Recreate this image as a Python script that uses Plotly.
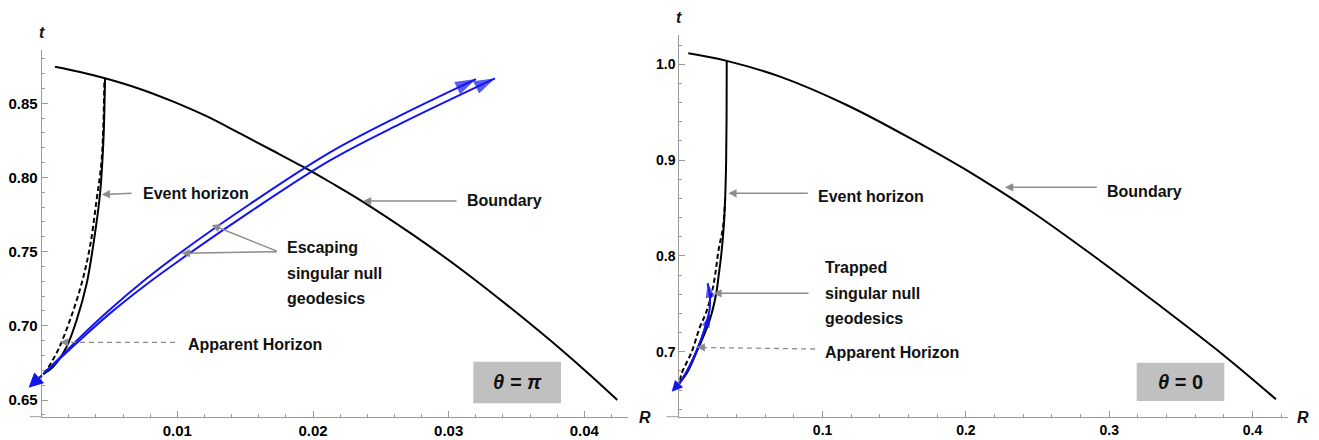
import plotly.graph_objects as go
import numpy as np

W, H = 1319, 440

# ---------------- Left panel (theta = pi) ----------------
L_bnd_R = [0.000980, 0.002823, 0.004666, 0.007247, 0.009701, 0.012186, 0.014619, 0.016978, 0.019285,
           0.021401, 0.023539, 0.027298, 0.031080, 0.034744, 0.038452, 0.040420, 0.042433]
L_bnd_t = [0.87466, 0.87109, 0.86685, 0.85964, 0.85108, 0.84111, 0.82965, 0.81833, 0.80708,
           0.79609, 0.78443, 0.76179, 0.73700, 0.71078, 0.68275, 0.66691, 0.65007]

L_eh_R = [0.00467, 0.00462, 0.00454, 0.00430, 0.00393, 0.00332, 0.00258, 0.00184, 0.00086, 0.00012]
L_eh_t = [0.8668, 0.8450, 0.8230, 0.7890, 0.7624, 0.7287, 0.7040, 0.6860, 0.6725, 0.6675]

L_ah_R = [0.00462, 0.00442, 0.00405, 0.00356, 0.00295, 0.00209, 0.00122, 0.00037, 0.00012]
L_ah_t = [0.8640, 0.8120, 0.7850, 0.7534, 0.7287, 0.7040, 0.6840, 0.6703, 0.6675]

L_g1_R = [0.000118, 0.001349, 0.002823, 0.005035, 0.007615, 0.010195, 0.015356, 0.021253, 0.026414, 0.032016]
L_g1_t = [0.6675, 0.6787, 0.6922, 0.7110, 0.7310, 0.7491, 0.7821, 0.8169, 0.8417, 0.8663]
L_g2_R = [0.000118, 0.001349, 0.002823, 0.005035, 0.007615, 0.010195, 0.015356, 0.021253, 0.026414, 0.033417]
L_g2_t = [0.6675, 0.6780, 0.6905, 0.7084, 0.7272, 0.7444, 0.7768, 0.8115, 0.8361, 0.8668]
L_back_tip = (-0.00095, 0.6585)

L_xticks = [0.01, 0.02, 0.03, 0.04]
L_xtext = ["0.01", "0.02", "0.03", "0.04"]
L_yticks = [0.65, 0.70, 0.75, 0.80, 0.85]
L_ytext = ["0.65", "0.70", "0.75", "0.80", "0.85"]

# ---------------- Right panel (theta = 0) ----------------
R_bnd_R = [0.00628, 0.0331, 0.0703, 0.1168, 0.1633, 0.2098, 0.24822, 0.2866, 0.3331, 0.3796, 0.4164]
R_bnd_t = [1.0115, 1.0036, 0.9871, 0.9575, 0.9210, 0.8810, 0.84374, 0.8027, 0.7505, 0.6966, 0.6503]

R_eh_R = [0.0331, 0.0330, 0.0327, 0.0320, 0.0310, 0.0292, 0.0275, 0.0258, 0.0226, 0.0195, 0.0122, 0.0052, 0.0]
R_eh_t = [1.0036, 0.950, 0.900, 0.860, 0.830, 0.800, 0.780, 0.761, 0.740, 0.726, 0.700, 0.6775, 0.667]

R_ah_R = [0.0320, 0.0305, 0.0274, 0.0250, 0.0226, 0.0185, 0.0144, 0.0087, 0.0017, 0.0]
R_ah_t = [0.860, 0.830, 0.806, 0.780, 0.761, 0.740, 0.726, 0.700, 0.6775, 0.667]

R_g1_R = [0.0, 0.0035, 0.0075, 0.0115, 0.0155, 0.0190, 0.0212, 0.0212, 0.0198]
R_g1_t = [0.667, 0.675, 0.686, 0.699, 0.714, 0.731, 0.745, 0.760, 0.7714]
R_g2_R = [0.0, 0.0035, 0.0075, 0.0115, 0.0155, 0.0190, 0.0214]
R_g2_t = [0.667, 0.675, 0.686, 0.699, 0.714, 0.728, 0.7383]
R_back_tip = (-0.0053, 0.6582)

R_xticks = [0.1, 0.2, 0.3, 0.4]
R_xtext = ["0.1", "0.2", "0.3", "0.4"]
R_yticks = [0.7, 0.8, 0.9, 1.0]
R_ytext = ["0.7", "0.8", "0.9", "1.0"]

BLUE = "#1414f0"
GRAY = "#8c8c8c"
AXC = "#9a9a9a"
FONT = "Liberation Sans"

fig = go.Figure()
annotations = []
shapes = []


def curve(R, t, xa, ya, color="black", width=2, dash=None):
    fig.add_trace(go.Scatter(x=R, y=t, mode="lines", xaxis=xa, yaxis=ya,
                             line=dict(color=color, width=width, dash=dash, shape="spline", smoothing=1.0),
                             hoverinfo="skip"))


def arrow_curve(R, t, xa, ya, head):
    sizes = [0] * (len(R) - 1) + [head]
    fig.add_trace(go.Scatter(x=R, y=t, mode="lines+markers", xaxis=xa, yaxis=ya, cliponaxis=False,
                             line=dict(color=BLUE, width=2, shape="spline", smoothing=1.0),
                             marker=dict(symbol="arrow", size=sizes, angleref="previous", color=BLUE,
                                         line=dict(width=0)),
                             hoverinfo="skip"))


def back_arrow(R, t, tip, xa, ya, size):
    annotations.append(dict(text="", x=tip[0], y=tip[1], xref=xa, yref=ya, ax=R[0], ay=t[0],
                            axref=xa, ayref=ya, showarrow=True, arrowhead=2, arrowsize=size,
                            arrowwidth=2, arrowcolor=BLUE, standoff=0))


# left
curve(L_bnd_R, L_bnd_t, "x", "y")
curve(L_ah_R, L_ah_t, "x", "y", dash="5px,3px")
curve(L_eh_R, L_eh_t, "x", "y")
arrow_curve(L_g1_R, L_g1_t, "x", "y", 22)
arrow_curve(L_g2_R, L_g2_t, "x", "y", 22)
back_arrow(L_g1_R, L_g1_t, L_back_tip, "x", "y", 1.4)
back_arrow(L_g2_R, L_g2_t, L_back_tip, "x", "y", 1.4)

# right
curve(R_bnd_R, R_bnd_t, "x2", "y2")
curve(R_ah_R, R_ah_t, "x2", "y2", dash="5px,3px")
curve(R_eh_R, R_eh_t, "x2", "y2")
arrow_curve(R_g1_R, R_g1_t, "x2", "y2", 15)
arrow_curve(R_g2_R, R_g2_t, "x2", "y2", 13)
back_arrow(R_g1_R, R_g1_t, R_back_tip, "x2", "y2", 1.1)


def px(x):
    return x / W


def py(y):
    return 1 - y / H


def axis_common(tickvals, ticktext, size):
    return dict(showline=True, linecolor=AXC, linewidth=1, ticks="inside", ticklen=6, tickwidth=1,
                tickcolor=AXC, tickvals=tickvals, ticktext=ticktext, showgrid=False, zeroline=False,
                tickfont=dict(family=FONT, size=size, color="black", weight="bold"), fixedrange=True)


xa = axis_common(L_xticks, L_xtext, 15)
xa.update(domain=[px(41.7), px(628)], range=[0, 0.04322], anchor="y",
          minor=dict(tickvals=list(np.round(np.arange(0.0, 0.0431, 0.002), 4)), ticks="inside",
                     ticklen=3, tickcolor=AXC, showgrid=False))
ya = axis_common(L_yticks, L_ytext, 15)
ya.update(domain=[py(416.7), py(50)], range=[0.63875, 0.8859], anchor="x",
          minor=dict(tickvals=list(np.round(np.arange(0.64, 0.886, 0.01), 3)), ticks="inside",
                     ticklen=3, tickcolor=AXC, showgrid=False))
xa2 = axis_common(R_xticks, R_xtext, 14)
xa2.update(domain=[px(679.3), px(1287.7)], range=[0, 0.42456], anchor="y2",
           minor=dict(tickvals=list(np.round(np.arange(0.0, 0.424, 0.02), 3)), ticks="inside",
                      ticklen=3, tickcolor=AXC, showgrid=False))
ya2 = axis_common(R_yticks, R_ytext, 14)
ya2.update(domain=[py(416.7), py(35)], range=[0.63215, 1.03058], anchor="x2",
           minor=dict(tickvals=list(np.round(np.arange(0.64, 1.03, 0.02), 3)), ticks="inside",
                      ticklen=3, tickcolor=AXC, showgrid=False))


def text(s, x, y, anchor="left", size=16, italic=False):
    s2 = f"<b><i>{s}</i></b>" if italic else f"<b>{s}</b>"
    annotations.append(dict(text=s2, x=px(x), y=py(y), xref="paper", yref="paper", showarrow=False,
                            xanchor=anchor, yanchor="middle",
                            font=dict(family=FONT, size=size, color="#111111")))


def garrow(tip, tail):
    annotations.append(dict(text="", x=px(tip[0]), y=py(tip[1]), xref="paper", yref="paper",
                            ax=tail[0] - tip[0], ay=tail[1] - tip[1], axref="pixel", ayref="pixel",
                            showarrow=True, arrowhead=2, arrowsize=1.1, arrowwidth=1.5,
                            arrowcolor=GRAY, standoff=0))


def dline(p0, p1):
    shapes.append(dict(type="line", xref="paper", yref="paper", x0=px(p0[0]), y0=py(p0[1]),
                       x1=px(p1[0]), y1=py(p1[1]), line=dict(color=GRAY, width=1.3, dash="5px,4px")))


def box(x0, y0, x1, y1):
    shapes.append(dict(type="rect", xref="paper", yref="paper", x0=px(x0), y0=py(y1), x1=px(x1),
                       y1=py(y0), fillcolor="#c0c0c0", line=dict(width=0), layer="below"))


# left panel annotations
garrow((101.7, 194.5), (133, 193.3))
text("Event horizon", 141, 193)
garrow((363, 201), (458, 201))
text("Boundary", 465, 200)
garrow((211.7, 225), (278.3, 251.7))
garrow((181.7, 253.3), (278.3, 251.7))
text("Escaping", 285, 247.3)
text("singular null", 285, 273.3)
text("geodesics", 285, 298.3)
dline((175, 342.3), (66, 342.3))
garrow((60, 342.3), (68, 342.3))
text("Apparent Horizon", 186, 344)
box(473.3, 361.7, 561, 403.3)
text("θ = π", 517, 382, anchor="center", size=20, italic=True)
text("t", 42, 32, anchor="center", size=16, italic=True)
text("R", 645, 417, anchor="center", size=16, italic=True)
shapes.append(dict(type="line", xref="paper", yref="paper", x0=px(30), x1=px(41.7), y0=py(416.7),
                   y1=py(416.7), line=dict(color=AXC, width=1)))

# right panel annotations
garrow((728.3, 193.3), (809.3, 193.3))
text("Event horizon", 816, 196.7)
garrow((1005, 187.3), (1098.3, 187.3))
text("Boundary", 1105, 191.7)
garrow((713.3, 293.3), (810, 293.3))
text("Trapped", 822.7, 267.7)
text("singular null", 822.7, 293.3)
text("geodesics", 822.7, 318.3)
dline((815, 349), (703, 347.5))
garrow((696.7, 347.3), (705, 347.4))
text("Apparent Horizon", 822.7, 352.3)
box(1136.7, 362.7, 1224.3, 401)
annotations.append(dict(text="<b><i>θ</i> = 0</b>", x=px(1180.5), y=py(382), xref="paper", yref="paper",
                        showarrow=False, xanchor="center", yanchor="middle",
                        font=dict(family=FONT, size=20, color="#111111")))
text("t", 679, 18, anchor="center", size=16, italic=True)
text("R", 1303, 417, anchor="center", size=16, italic=True)
shapes.append(dict(type="line", xref="paper", yref="paper", x0=px(666.7), x1=px(679.3), y0=py(416.7),
                   y1=py(416.7), line=dict(color=AXC, width=1)))

fig.update_layout(width=W, height=H, margin=dict(l=0, r=0, t=0, b=0), showlegend=False,
                  paper_bgcolor="white", plot_bgcolor="white",
                  xaxis=xa, yaxis=ya, xaxis2=xa2, yaxis2=ya2,
                  annotations=annotations, shapes=shapes)

fig.write_html("out.html", config={"displayModeBar": False},
               post_script="document.body.style.margin='0';document.body.style.overflow='hidden';")
